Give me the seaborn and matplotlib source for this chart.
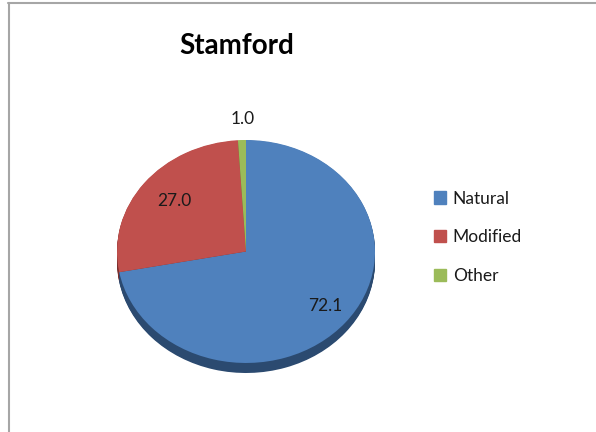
import matplotlib
matplotlib.use("Agg")
import matplotlib.pyplot as plt
import seaborn as sns
import numpy as np
from matplotlib.lines import Line2D

# data
categories = ["Natural", "Modified", "Other"]
values = [72.1, 27.0, 1.0]
labels = ["72.1", "27.0", "1.0"]

top_colors = ["#4F81BD", "#C0504D", "#9BBB59"]
side_colors = ["#2B4A70", "#7A2F2D", "#5E7535"]

sns.set_style("white")
plt.rcParams["font.family"] = ["Lato", "DejaVu Sans"]

W, H = 596, 432
fig = plt.figure(figsize=(W / 100, H / 100), dpi=100)

# pie area in pixels: x 117-375, top face y 140-363, depth ~10px
depth = 0.09
px_l, px_r, px_t, px_b = 117, 375, 140, 373
ax = fig.add_axes([px_l / W, 1 - px_b / H, (px_r - px_l) / W, (px_b - px_t) / H])

# side of the disc: stacked dark copies
for k in np.linspace(depth, 0.005, 12):
    ax.pie(values, colors=side_colors, startangle=90, counterclock=False,
           center=(0, -k), radius=1, wedgeprops=dict(linewidth=0))

wedges, texts, autotexts = ax.pie(
    values, colors=top_colors, startangle=90, counterclock=False,
    radius=1, autopct=lambda p: "", pctdistance=0.75,
    wedgeprops=dict(linewidth=0))

for t, lab in zip(autotexts, labels):
    t.set_text(lab)
    t.set_fontsize(12.5)
    t.set_color("#1a1a1a")
    x, y = t.get_position()
    t.set_position((x + 0.04, y - 0.01))

# small slice label sits outside
w = wedges[2]
ang = np.deg2rad((w.theta1 + w.theta2) / 2)
autotexts[2].set_position((1.19 * np.cos(ang) + 0.01, 1.19 * np.sin(ang)))

ax.set_aspect("auto")
ax.set_xlim(-1, 1)
ax.set_ylim(-1 - depth, 1)
ax.axis("off")

# title
fig.text(237 / W, 1 - 46 / H, "Stamford", ha="center", va="center",
         fontsize=20, fontweight="bold", color="black")

# legend
handles = [plt.Rectangle((0, 0), 1, 1, color=c) for c in top_colors]
fig.legend(handles, categories, loc="upper left",
           bbox_to_anchor=(418 / W, 1 - 175 / H), frameon=False,
           fontsize=12.5, handlelength=0.7, handleheight=0.7,
           handletextpad=0.4, labelspacing=1.3, labelcolor="#1a1a1a")

# chart border (top and left edges)
fig.add_artist(Line2D([8 / W, 1], [1 - 2.5 / H, 1 - 2.5 / H],
                      transform=fig.transFigure, color="#a6a6a6", lw=1.5))
fig.add_artist(Line2D([8.5 / W, 8.5 / W], [0, 1 - 2.5 / H],
                      transform=fig.transFigure, color="#a6a6a6", lw=1.5))

fig.savefig("out.png", dpi=100)
